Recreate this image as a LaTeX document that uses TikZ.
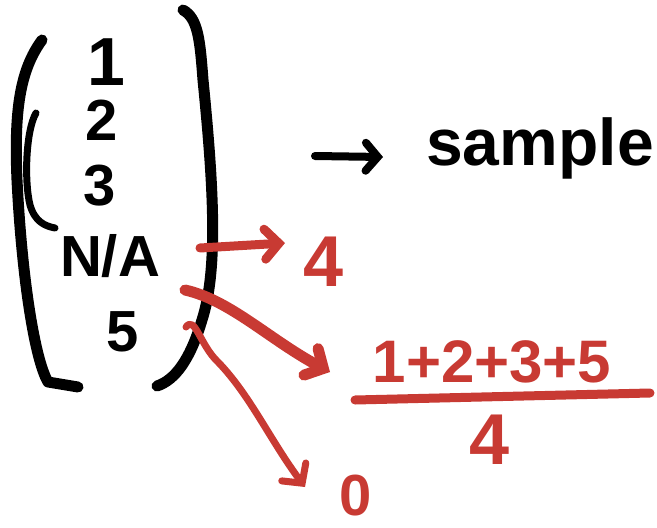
\documentclass[tikz,border=0pt]{standalone}
\usepackage{fontspec}
\setmainfont{Liberation Sans}
\usetikzlibrary{arrows.meta}
\definecolor{pen}{HTML}{C83A33}
\tikzset{
  ink/.style={line width=11pt, line cap=round, line join=round},
  redink/.style={draw=pen, line width=9pt, line cap=round, line join=round},
  tip/.style={-{Straight Barb[length=14pt,width=30pt,line cap=round]}},
  num/.style={font=\fontsize{58}{58}\selectfont\bfseries, inner sep=0pt},
  rednum/.style={text=pen, font=\fontsize{72}{72}\selectfont\bfseries, inner sep=0pt},
}
\begin{document}
\begin{tikzpicture}[x=1pt,y=-1pt]
\useasboundingbox (0,0) rectangle (657,528);
% brackets
\draw[ink] (42,40) .. controls (20,70) and (14,110) .. (17,180)
  .. controls (22,280) and (35,360) .. (48,382) -- (78,387);
\draw[ink, line width=7pt] (36,113) .. controls (26,130) and (24,180) .. (30,205)
  .. controls (35,222) and (45,226) .. (55,228);
\draw[ink] (183,10) .. controls (198,18) and (200,40) .. (203,80)
  .. controls (214,190) and (218,270) .. (202,320)
  .. controls (190,360) and (175,380) .. (157,386);
% entries
\node[num, font=\fontsize{68}{68}\selectfont\bfseries] (n1) at (106,62) {1};
\node[num] (n2) at (102,120) {2};
\node[num] (n3) at (100,186) {3};
\node[num] (na) at (110,256) {N/A};
\node[num] (n5) at (123,332) {5};
% sample
\coordinate (bs) at (315,156);
\node[inner sep=0pt, font=\fontsize{66}{66}\selectfont\bfseries] (smp) at (540,148) {sample};
\draw[ink, line width=8pt, -{Straight Barb[length=12pt,width=28pt,line cap=round]}] (bs) -- (383,157);
% red: 4
\coordinate (s4) at (200,248);
\node[rednum] (four) at (324,262) {4};
\coordinate (e4) at (285,243);
\draw[redink, tip] (s4) -- (e4);
% red: mean
\coordinate (sm) at (185,290);
\node[rednum, font=\fontsize{60}{60}\selectfont\bfseries] (numer) at (492,362) {1+2+3+5};
\node[rednum] (denom) at (490,440) {4};
\coordinate (fl) at (355,400);
\coordinate (fr) at (650,393);
\draw[redink] (fl) -- (fr);
\draw[redink, line width=11pt, tip] (sm) .. controls (230,300) and (270,340) .. (330,372);
% red: zero
\coordinate (sz) at (186,327);
\node[rednum, font=\fontsize{58}{58}\selectfont\bfseries] (zero) at (356,496) {0};
\draw[redink, line width=7pt, tip] (sz) .. controls (195,315) and (200,345) .. (218,362)
  .. controls (250,395) and (270,440) .. (305,487);
\end{tikzpicture}
\end{document}
